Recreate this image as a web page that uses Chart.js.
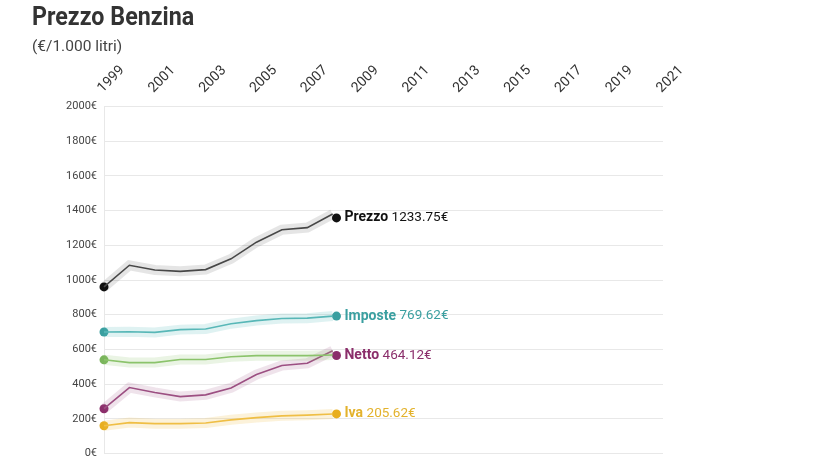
<!DOCTYPE html>
<html>
<head>
<meta charset="utf-8">
<script src="https://cdn.jsdelivr.net/npm/chart.js@4.4.1/dist/chart.umd.min.js"></script>
<style>
  html, body { margin: 0; padding: 0; background: #fff; }
  #wrap { position: relative; width: 820px; height: 461px; }
  #title {
    position: absolute; left: 32px; top: 1px;
    font: bold 26px Roboto, sans-serif; color: #333;
    transform: scaleX(0.895); transform-origin: left top;
  }
  #subtitle {
    position: absolute; left: 32px; top: 37px;
    font: 15.5px Roboto, sans-serif; color: #444;
  }
</style>
</head>
<body>
<div id="wrap">
  <canvas id="chart" width="820" height="461"></canvas>
  <div id="title">Prezzo Benzina</div>
  <div id="subtitle">(€/1.000 litri)</div>
</div>
<script>
// ─── Data ──────────────────────────────────────────────────────────────
const years   = [1999, 2000, 2001, 2002, 2003, 2004, 2005, 2006, 2007, 2008];
const prezzo  = [960, 1085, 1058, 1050, 1060, 1122, 1218, 1290, 1302, 1380];
const imposte = [700, 702, 698, 714, 718, 748, 766, 778, 780, 792];
const accise  = [540, 524, 524, 542, 542, 558, 564, 564, 564, 568];
const netto   = [258, 380, 352, 328, 338, 378, 455, 507, 520, 592];
const iva     = [160, 178, 172, 172, 176, 194, 207, 217, 221, 228];

const endNames  = ['Prezzo', 'Imposte', 'Netto', 'Iva'];
const endValues = ['1233.75€', '769.62€', '464.12€', '205.62€'];
const endDots   = [1358, 792, 565, 228];
const endYear   = 2008.15;

// Colors
const COLORS = {
    prezzo:  { line: '#505050', band: 'rgba(0, 0, 0, 0.10)',        dot: '#111111', text: '#111111' },
    imposte: { line: '#5bb8b8', band: 'rgba(77, 182, 182, 0.18)',   dot: '#3a9fa0', text: '#3a9fa0' },
    accise:  { line: '#8cc46c', band: 'rgba(140, 196, 108, 0.18)',  dot: '#7ab55c', text: '#7ab55c' },
    netto:   { line: '#9c4f82', band: 'rgba(156, 79, 130, 0.16)',   dot: '#8b2e6b', text: '#8b2e6b' },
    iva:     { line: '#efbf45', band: 'rgba(239, 191, 69, 0.20)',   dot: '#e8ae1e', text: '#e3b22c' },
};

const toXY = (vals) => vals.map((v, i) => ({ x: years[i], y: v }));

function seriesSets(vals, c, endDot) {
    const dots = [{ x: years[0], y: vals[0] }];
    if (endDot !== null) dots.push({ x: endYear, y: endDot });
    return [
        { data: toXY(vals), borderColor: c.band, borderWidth: 10, pointRadius: 0, tension: 0 },
        { data: toXY(vals), borderColor: c.line, borderWidth: 1.6, pointRadius: 0, tension: 0 },
        { data: dots, showLine: false, pointRadius: 4.5, pointBackgroundColor: c.dot, pointBorderWidth: 0 },
    ];
}

const datasets = [
    ...seriesSets(iva, COLORS.iva, endDots[3]),
    ...seriesSets(accise, COLORS.accise, null),
    ...seriesSets(netto, COLORS.netto, endDots[2]),
    ...seriesSets(imposte, COLORS.imposte, endDots[1]),
    ...seriesSets(prezzo, COLORS.prezzo, endDots[0]),
];

const labelColors = [COLORS.prezzo.text, COLORS.imposte.text, COLORS.netto.text, COLORS.iva.text];

// ─── End labels plugin ─────────────────────────────────────────────────
const endLabelPlugin = {
    id: 'endLabels',
    afterDatasetsDraw(chart) {
        const { ctx, scales: { x, y } } = chart;
        ctx.save();
        ctx.textBaseline = 'middle';
        endNames.forEach((name, i) => {
            const px = x.getPixelForValue(endYear) + 8;
            const py = y.getPixelForValue(endDots[i]);
            ctx.fillStyle = labelColors[i];
            ctx.font = "bold 14px Roboto, sans-serif";
            ctx.fillText(name, px, py);
            const w = ctx.measureText(name + ' ').width;
            ctx.font = "13.5px Roboto, sans-serif";
            ctx.fillText(endValues[i], px + w, py);
        });
        ctx.restore();
    }
};

new Chart(document.getElementById('chart'), {
    type: 'line',
    data: { datasets },
    plugins: [endLabelPlugin],
    options: {
        responsive: false,
        animation: false,
        clip: false,
        layout: { padding: { top: 51.5, left: 0, right: 157, bottom: 7.5 } },
        plugins: {
            legend: { display: false },
            tooltip: { enabled: false }
        },
        scales: {
            x: {
                type: 'linear',
                position: 'top',
                min: 1999,
                max: 2021,
                afterFit(scale) { scale.height = 55; },
                ticks: {
                    stepSize: 2,
                    minRotation: 45,
                    maxRotation: 45,
                    padding: 2,
                    labelOffset: 8,
                    color: '#333',
                    font: { family: 'Roboto', size: 14 },
                    callback: (v) => String(v)
                },
                grid: { display: false },
                border: { display: false }
            },
            y: {
                min: 0,
                max: 2000,
                afterFit(scale) {
                    scale.width = 104;
                    scale.paddingTop = 0;
                    scale.paddingBottom = 0;
                },
                ticks: {
                    stepSize: 200,
                    padding: 7,
                    color: '#444',
                    font: { family: 'Roboto', size: 11 },
                    callback: (v) => v + '€'
                },
                grid: { color: '#e8e8e8', lineWidth: 1, drawTicks: false },
                border: { color: '#e8e8e8' }
            }
        }
    }
});
</script>
</body>
</html>
